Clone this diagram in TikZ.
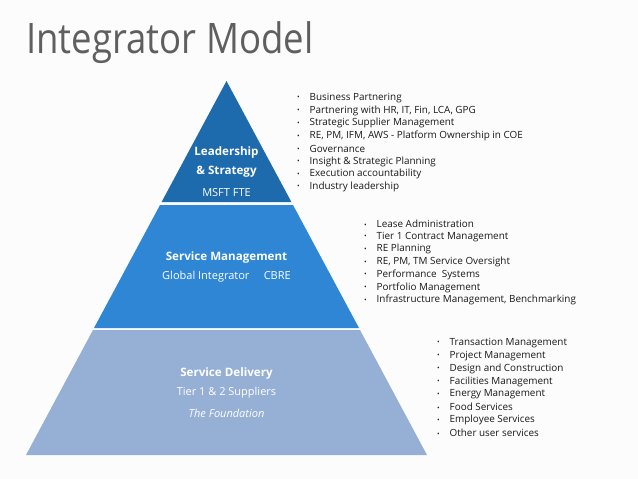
\documentclass[tikz,border=0pt]{standalone}
\usepackage{fontspec}
\setmainfont{Open Sans}
\definecolor{bgc}{HTML}{FCFCFC}
\definecolor{tierA}{HTML}{1D6AAD}
\definecolor{tierB}{HTML}{2F86D5}
\definecolor{tierC}{HTML}{95AFD5}
\definecolor{titlec}{HTML}{5F5F5F}
\definecolor{itemc}{HTML}{1A1A1A}
\newcommand\bulmark{\makebox[12.5pt][l]{\raisebox{0.1ex}{\scalebox{0.7}{\textbullet}}}}
\begin{document}
\begin{tikzpicture}[x=1pt,y=-1pt,
  tierlabel/.style={text=white,inner sep=0pt,anchor=center,font=\fontsize{11}{13}\selectfont},
  tierhead/.style={tierlabel,font=\fontsize{11.6}{13}\selectfont\bfseries},
  item/.style={anchor=west,inner sep=0pt,text=itemc,font=\fontsize{9.9}{11}\selectfont},
  titletext/.style={anchor=base west,inner sep=0pt,text=titlec}]
\fill[bgc] (0,0) rectangle (638,479);
\useasboundingbox (0,0) rectangle (638,479);
% title
\node[titletext] (title) at (26,53) {\scalebox{0.87}[1]{\fontsize{42}{46}\selectfont Integrator Model}};
% pyramid tiers
\fill[tierA] (226.5,81) -- (291.4,202) -- (161.6,202) -- cycle;
\fill[tierB] (160.0,205) -- (293.0,205) -- (359.0,328) -- (94.0,328) -- cycle;
\fill[tierC] (93.0,330) -- (360.0,330) -- (427.0,455) -- (26.0,455) -- cycle;
% tier labels
\node[tierhead] (l1a) at (226.5,152) {Leadership};
\node[tierhead] (l1b) at (226.5,172) {\& Strategy};
\node[tierlabel] (l1c) at (226.5,193) {MSFT FTE};
\node[tierhead] (l2a) at (226.5,257) {Service Management};
\node[tierlabel] (l2b) at (226.5,277) {Global Integrator\hspace{1.3em}CBRE};
\node[tierhead] (l3a) at (226.5,373) {Service Delivery};
\node[tierlabel] (l3b) at (226.5,393) {Tier 1 \& 2 Suppliers};
\node[tierlabel,font=\fontsize{11}{13}\selectfont\itshape] (l3c) at (226.5,413) {The Foundation};
% lists
\foreach \t [count=\i] in {Business Partnering,{Partnering with HR, IT, Fin, LCA, GPG},Strategic Supplier Management,{RE, PM, IFM, AWS - Platform Ownership in COE},Governance,Insight \& Strategic Planning,Execution accountability,Industry leadership}
  \node[item] (la\i) at (297,{98+(\i-1)*12.7}) {\bulmark\t};
\foreach \t [count=\i] in {Lease Administration,Tier 1 Contract Management,RE Planning,{RE, PM, TM Service Oversight},Performance\ \ Systems,Portfolio Management,{Infrastructure Management, Benchmarking}}
  \node[item] (lb\i) at (364,{224+(\i-1)*12.7}) {\bulmark\t};
\foreach \t [count=\i] in {Transaction Management,Project Management,Design and Construction,Facilities Management,Energy Management,Food Services,Employee Services,Other user services}
  \node[item] (lc\i) at (437,{343+(\i-1)*12.85}) {\bulmark\t};
\end{tikzpicture}
\end{document}
